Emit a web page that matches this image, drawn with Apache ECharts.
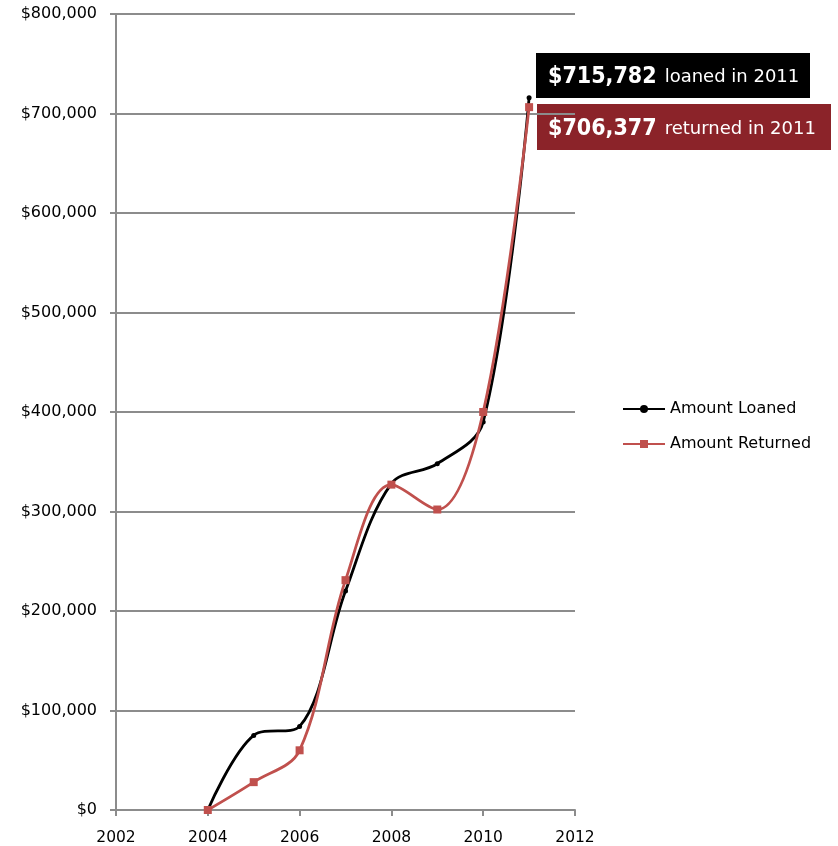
<!DOCTYPE html>
<html><head><meta charset="utf-8">
<script src="https://cdn.jsdelivr.net/npm/echarts@6/dist/echarts.min.js"></script>
<style>html,body{margin:0;padding:0;background:#fff}#c{width:838px;height:846px}</style>
</head><body><div id="c"></div>
<script>
const years = [2004, 2005, 2006, 2007, 2008, 2009, 2010, 2011];
const loaned = [0, 75000, 84000, 220000, 328000, 348000, 390000, 715782];
const returned = [0, 28000, 60000, 231000, 327000, 302000, 400000, 706377];
const FONT = 'DejaVu Sans';
const fmt = v => '$' + v.toLocaleString('en-US');
const chart = echarts.init(document.getElementById('c'));
const gray = '#8c8c8c';
chart.setOption({
  animation: false,
  textStyle: { fontFamily: FONT },
  grid: { left: 116, right: 263, top: 14, bottom: 36 },
  xAxis: {
    type: 'value', min: 2002, max: 2012, interval: 2,
    axisLine: { lineStyle: { color: gray, width: 2 } },
    axisTick: { show: true, length: 6, lineStyle: { color: gray, width: 2 } },
    splitLine: { show: false },
    axisLabel: { color: '#000', fontSize: 15.5, margin: 20, formatter: v => String(v) }
  },
  yAxis: {
    type: 'value', min: 0, max: 800000, interval: 100000,
    axisLine: { show: true, lineStyle: { color: gray, width: 2 } },
    axisTick: { show: true, length: 6, lineStyle: { color: gray, width: 2 } },
    splitLine: { show: true, lineStyle: { color: gray, width: 2 } },
    axisLabel: { color: '#000', fontSize: 16, margin: 19, formatter: v => fmt(v) }
  },
  legend: {
    orient: 'vertical', left: 617, top: 396, itemGap: 19, itemWidth: 42, itemHeight: 10,
    textStyle: { fontSize: 16, color: '#000', fontFamily: FONT },
    data: ['Amount Loaned', 'Amount Returned']
  },
  series: [
    {
      name: 'Amount Loaned', type: 'line', smooth: 0.35,
      data: years.map((y, i) => [y, loaned[i]]),
      symbol: 'circle', symbolSize: 5,
      lineStyle: { color: '#000', width: 2.8 },
      itemStyle: { color: '#000' }, z: 3
    },
    {
      name: 'Amount Returned', type: 'line', smooth: 0.35,
      data: years.map((y, i) => [y, returned[i]]),
      symbol: 'rect', symbolSize: 8,
      lineStyle: { color: '#c0504d', width: 2.8 },
      itemStyle: { color: '#c0504d' }, z: 4
    }
  ],
  graphic: [
    { type: 'rect', shape: { x: 536, y: 53, width: 274, height: 45 }, style: { fill: '#000' } },
    { type: 'text', x: 548, y: 77, style: {
        text: '{b|' + fmt(loaned[7]) + '}{s|loaned in ' + years[7] + '}',
        verticalAlign: 'middle', fill: '#fff',
        rich: { b: { fontSize: 23, fontWeight: 'bold', fill: '#fff', fontFamily: 'DejaVu Sans Condensed', padding: [0, 8, 0, 0] },
                s: { fontSize: 18, fill: '#fff', fontFamily: 'DejaVu Sans' } } } },
    { type: 'rect', shape: { x: 537, y: 104, width: 294, height: 46 }, style: { fill: '#8b2329' } },
    { type: 'text', x: 548, y: 129, style: {
        text: '{b|' + fmt(returned[7]) + '}{s|returned in ' + years[7] + '}',
        verticalAlign: 'middle', fill: '#fff',
        rich: { b: { fontSize: 23, fontWeight: 'bold', fill: '#fff', fontFamily: 'DejaVu Sans Condensed', padding: [0, 8, 0, 0] },
                s: { fontSize: 18, fill: '#fff', fontFamily: 'DejaVu Sans' } } } }
  ]
});
</script></body></html>
